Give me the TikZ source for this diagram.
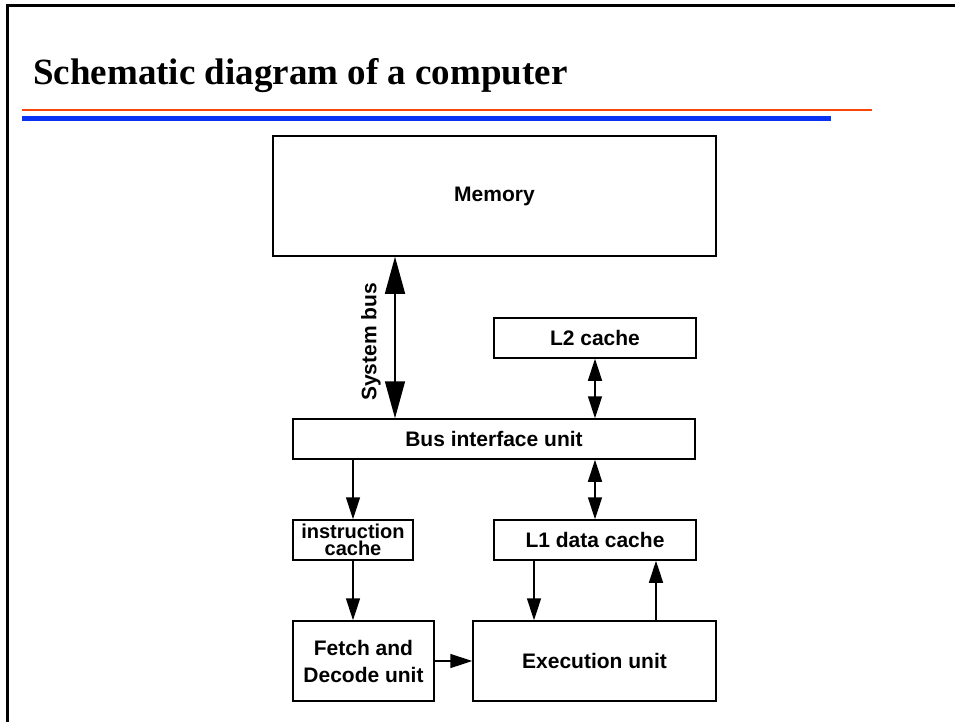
\documentclass[tikz,border=0pt]{standalone}
\usepackage{fontspec}
\setmainfont{Liberation Serif}
\setsansfont{Liberation Sans}
\usetikzlibrary{arrows.meta,calc}
\definecolor{rulered}{RGB}{250,70,10}
\definecolor{ruleblue}{RGB}{10,50,245}
\tikzset{
  blk/.style={draw,line width=1.5pt,inner sep=0pt,align=center,
    font=\sffamily\bfseries\fontsize{21}{27}\selectfont},
  conn/.style={line width=1.5pt},
  sarr/.style={conn,-{Triangle[length=22pt,width=14pt]}},
  darr/.style={conn,{Triangle[length=22pt,width=14pt]}-{Triangle[length=22pt,width=14pt]}},
  barr/.style={conn,{Triangle[length=37pt,width=20pt]}-{Triangle[length=37pt,width=20pt]}},
}
\begin{document}
\begin{tikzpicture}[x=1pt,y=-1pt]
\useasboundingbox (0,0) rectangle (955,722);
% frame and rules
\draw[line width=3pt] (955,6) -- (7,6) -- (7,722);
\node[anchor=base west,inner sep=0pt,font=\rmfamily\bfseries\fontsize{37}{40}\selectfont] (title) at (33,85) {Schematic diagram of a computer};
\draw[rulered,line width=2pt] (22,110) -- (872,110);
\draw[ruleblue,line width=4.5pt] (22,118.5) -- (831,118.5);
% boxes
\node[blk,minimum width=443pt,minimum height=120pt] (mem) at (494.5,196) {Memory};
\node[blk,minimum width=202pt,minimum height=40pt] (l2) at (595,338) {L2 cache};
\node[blk,minimum width=402pt,minimum height=40pt] (biu) at (494,439) {Bus interface unit};
\node[blk,minimum width=120pt,minimum height=40pt,font=\sffamily\bfseries\fontsize{20}{17}\selectfont] (ic) at (353,540) {instruction\\cache};
\node[blk,minimum width=202pt,minimum height=40pt] (l1) at (595,540) {L1 data cache};
\node[blk,minimum width=141pt,minimum height=80pt] (fd) at (363.5,661) {Fetch and\\Decode unit};
\node[blk,minimum width=243pt,minimum height=80pt] (ex) at (594.5,661) {Execution unit};
% helper coordinates
\coordinate (sysx) at (395,0);
\coordinate (dnx) at (534,0);
\coordinate (upx) at (656,0);
% connectors
\draw[barr] (mem.south -| sysx) -- (biu.north -| sysx);
\node[rotate=90,inner sep=0pt,font=\sffamily\bfseries\fontsize{21}{25}\selectfont] (sysbus) at (371,342) {System bus};
\draw[darr] (l2.south) -- (l2.south |- biu.north);
\draw[darr] (biu.south -| l1.north) -- (l1.north);
\draw[sarr] (ic.north |- biu.south) -- (ic.north);
\draw[sarr] (ic.south) -- (ic.south |- fd.north);
\draw[sarr] (l1.south -| dnx) -- (ex.north -| dnx);
\draw[sarr] (ex.north -| upx) -- (l1.south -| upx);
\draw[sarr] (fd.east) -- (ex.west);
\end{tikzpicture}
\end{document}
